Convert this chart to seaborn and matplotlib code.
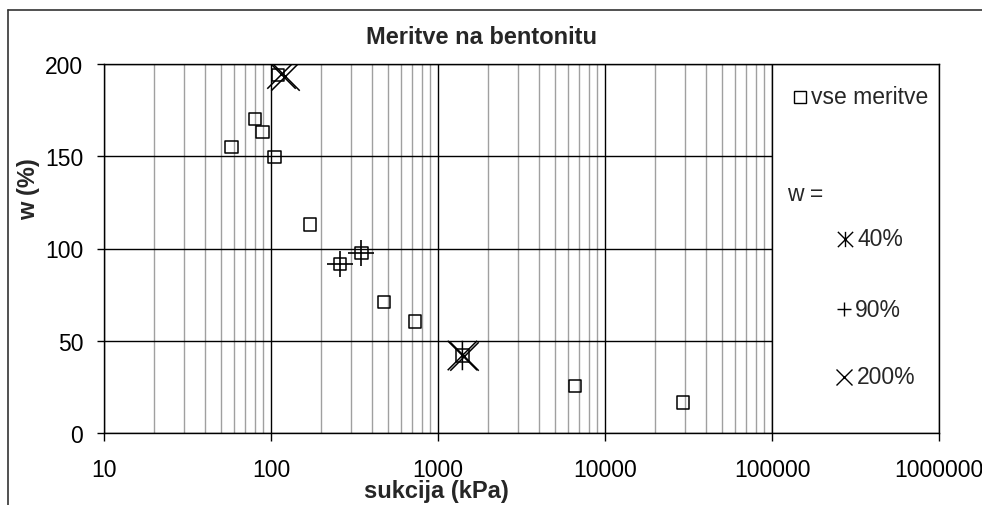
import seaborn as sns
import matplotlib.pyplot as plt
import matplotlib.ticker as mticker
from matplotlib.path import Path
from matplotlib.patches import Rectangle
from matplotlib.lines import Line2D
import numpy as np

# all measurements: suction (kPa) vs water content (%)
suction_all = [58, 80, 89, 105, 110, 171, 259, 348, 476, 730, 1400, 6640, 29400]
w_all = [155, 170, 163, 149.5, 194, 113, 91.5, 97.5, 71, 60.5, 42, 25.5, 16.5]

# highlighted by initial water content
suction_40 = [1400]
w_40 = [42]
suction_90 = [259, 348]
w_90 = [91.5, 97.5]
suction_200 = [114, 121, 1430]
w_200 = [194.5, 193.5, 42]

x_ticks = [10, 100, 1000, 10000, 100000, 1000000]
y_ticks = [0, 50, 100, 150, 200]

sns.set_theme(style='white')
plt.rcParams['font.family'] = ['Liberation Sans', 'DejaVu Sans']

# excel style star: x with a vertical bar
star = Path([(-0.5, -0.5), (0.5, 0.5), (-0.5, 0.5), (0.5, -0.5), (0, -0.5), (0, 0.5)],
            [Path.MOVETO, Path.LINETO] * 3)

fig = plt.figure(figsize=(9.82, 5.06), dpi=100)
ax = fig.add_axes([104/982, 72/506, 835/982, 369/506])

kw = dict(ax=ax, legend=False, zorder=3)
sns.scatterplot(x=suction_all, y=w_all, marker='s', s=78, facecolor='none', edgecolor='black', linewidth=1.1, **kw)
sns.scatterplot(x=suction_40, y=w_40, marker=star, s=450, facecolor='none', edgecolor='black', linewidth=1.1, **kw)
sns.scatterplot(x=suction_90, y=w_90, marker='+', s=370, color='black', linewidth=1.2, **kw)
sns.scatterplot(x=suction_200, y=w_200, marker='x', s=420, color='black', linewidth=1.1, **kw)

ax.set_xscale('log')
ax.set_xlim(10, 1e6)
ax.set_ylim(0, 200)
ax.set_xticks(x_ticks)
ax.set_xticklabels([str(v) for v in x_ticks])
ax.set_yticks(y_ticks)
ax.set_yticklabels([str(v) for v in y_ticks])
ax.xaxis.set_minor_locator(mticker.LogLocator(base=10, subs=np.arange(2, 10)))
ax.xaxis.set_minor_formatter(mticker.NullFormatter())
ax.grid(which='major', axis='both', color='black', lw=1)
ax.grid(which='minor', axis='x', color='#a0a0a0', lw=1)
ax.set_axisbelow(True)
ax.tick_params(axis='x', which='major', bottom=True, direction='out', length=6, width=1,
               color='black', pad=12, labelsize=16.5, labelcolor='black')
ax.tick_params(axis='x', which='minor', length=0)
ax.tick_params(axis='y', left=True, direction='out', length=5, width=1,
               color='black', pad=10, labelsize=16.5, labelcolor='black')
for sp in ax.spines.values():
    sp.set_color('black')
    sp.set_linewidth(1)
ax.set_xlabel('')
ax.set_ylabel('')

# legend box over the last decade
ax.add_patch(Rectangle((0.8, 0), 0.2, 1, transform=ax.transAxes, facecolor='white',
                       edgecolor='black', lw=1, zorder=1.5))
ax.plot([0.8335], [0.911], marker='s', ms=9, mfc='none', mec='black', mew=1,
        transform=ax.transAxes, zorder=4)
ax.text(0.847, 0.911, 'vse meritve', transform=ax.transAxes, ha='left', va='center', fontsize=16.5)
ax.text(0.818, 0.648, 'w =', transform=ax.transAxes, ha='left', va='center', fontsize=16.5)
ax.plot([0.887], [0.526], marker=star, ms=11, mfc='none', mec='black', mew=1,
        transform=ax.transAxes, zorder=4)
ax.text(0.902, 0.526, '40%', transform=ax.transAxes, ha='left', va='center', fontsize=16.5)
ax.plot([0.886], [0.336], marker='+', ms=10.5, mec='black', mew=1,
        transform=ax.transAxes, zorder=4)
ax.text(0.899, 0.336, '90%', transform=ax.transAxes, ha='left', va='center', fontsize=16.5)
ax.plot([0.886], [0.152], marker='x', ms=11, mec='black', mew=1,
        transform=ax.transAxes, zorder=4)
ax.text(0.902, 0.152, '200%', transform=ax.transAxes, ha='left', va='center', fontsize=16.5)

fig.text(482/982, 1 - 37/506, 'Meritve na bentonitu', ha='center', va='center',
         fontsize=17, fontweight='bold')
fig.text(436/982, 1 - 492/506, 'sukcija (kPa)', ha='center', va='center',
         fontsize=17, fontweight='bold')
fig.text(29/982, 1 - 189/506, 'w (%)', ha='center', va='center', rotation=90,
         fontsize=17, fontweight='bold')

# chart area border
fig.add_artist(Line2D([8/982, 8/982], [0, 1 - 11/506], color='#333333', lw=1.2))
fig.add_artist(Line2D([8/982, 1], [1 - 11/506, 1 - 11/506], color='#333333', lw=1.2))

fig.savefig('out.png', dpi=100)
